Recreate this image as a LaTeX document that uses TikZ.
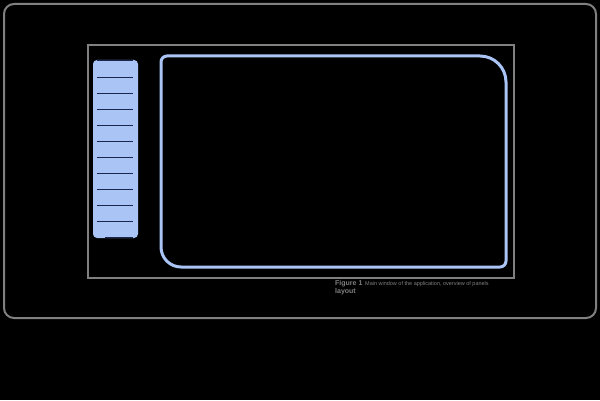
\documentclass[tikz,border=0pt]{standalone}
\usepackage{fontspec}
\setmainfont{Liberation Sans}
\definecolor{frame}{HTML}{808080}
\definecolor{paneblue}{HTML}{A9C4F5}
\definecolor{navy}{HTML}{1A2550}
\tikzset{
  framebox/.style={draw=frame,line width=2pt},
  panel/.style={draw=paneblue,line width=3pt},
  itemline/.style={draw=navy,line width=1pt},
  captxt/.style={text=frame,inner sep=0pt,anchor=north west,font=\fontsize{5.5}{6.5}\selectfont}
}
\begin{document}
\begin{tikzpicture}[x=1pt,y=1pt]
\useasboundingbox (0,0) rectangle (600,400);
\fill[black] (0,0) rectangle (600,400);
% outer window
\draw[framebox,rounded corners=10pt] (4,82) rectangle (596,396);
% inner frame
\draw[framebox] (88,122) rectangle (514,355);
% sidebar
\fill[paneblue,rounded corners=4pt] (93,162) rectangle (138,340);
\foreach \k in {0,...,10}{
  \draw[itemline] (97,{339-16*\k}) -- (133,{339-16*\k});
}
\draw[itemline] (105,163) -- (133,163);
% main panel
\draw[panel] (161,153) -- (161,338) arc (180:90:6) -- (480,344) arc (90:0:26)
  -- (506,139) arc (0:-90:6) -- (181,133) arc (270:180:20) -- cycle;
% caption
\node[captxt] (cap1) at (335,120) {\textbf{\fontsize{7}{8}\selectfont Figure 1}\enspace Main window of the application, overview of panels};
\node[captxt] (cap2) at (335,112) {\textbf{\fontsize{7}{8}\selectfont layout}};
\end{tikzpicture}
\end{document}
